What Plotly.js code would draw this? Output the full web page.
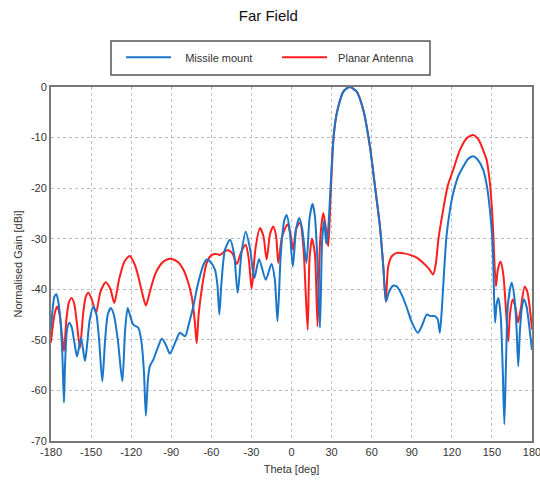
<!DOCTYPE html>
<html>
<head>
<meta charset="utf-8">
<script src="https://cdn.plot.ly/plotly-3.0.1.min.js"></script>
<style>html,body{margin:0;padding:0;background:#fff;}#chart{width:540px;height:482px;}</style>
</head>
<body>
<div id="chart"></div>
<script>
// Missile mount (blue)
var missileTheta = [-180,-179,-177.5,-176,-174.5,-173,-171.5,-170.3,-169.5,-168,-166.3,-164.5,-162.5,-160.5,-157.5,-154.6,-153,-151,-148.3,-146,-144,-141.6,-139.5,-137.5,-135.3,-133,-130,-126.6,-124.5,-122.6,-120.5,-118.4,-114.7,-112.5,-110.5,-109,-107.5,-106,-103.4,-100,-97,-94,-91,-87,-83.5,-79.7,-76.5,-73.5,-70.5,-68.5,-66,-63.5,-61,-57.3,-55.5,-54,-52.5,-49.8,-46,-43,-40.3,-37.5,-34.3,-31,-27.8,-24.3,-19.3,-15,-12.5,-10.5,-8,-5.5,-3.6,-1.5,1,3.5,5.8,8,11.2,13.5,15.7,17.5,19.5,21.3,23,24.5,26,27.5,29,31.3,33,35,38.8,43.3,48.8,53.7,58.7,62.5,66.2,68.7,70.8,73,76,78.7,82,86,90,94.5,97.5,101.2,104,107.4,109.5,111,112.5,113.7,116,118.5,121,125,128.6,132,136,140,143.5,146.5,148.5,150,151,152.3,153.5,154.8,156.5,158,159.3,160.5,162,164.8,167,168.5,169.7,171,172.5,174,176,178,180];
var missileGain = [-48,-44.5,-41.5,-41,-42.5,-46,-53,-62.4,-55,-48,-46.6,-47.5,-50.5,-53.3,-49.6,-54.2,-51,-46,-43.4,-45,-50,-58.2,-50,-45,-43.7,-45,-50,-58.2,-48,-43.7,-45.5,-47,-47.6,-50,-56,-65,-58,-55.2,-53.9,-51.5,-49.8,-51,-52.7,-50.5,-48.6,-49.3,-46.5,-43.4,-39.5,-37.4,-35.2,-34.1,-34.5,-36.1,-39,-45,-39,-32.2,-30.2,-33,-40.7,-33,-28.6,-32,-37.8,-34,-38.1,-35,-38,-46.3,-33,-26.5,-25.3,-28,-35.5,-28,-25.9,-28,-34.8,-26,-23.1,-25.5,-35,-47.6,-30,-26.4,-31,-28,-21,-10.5,-6.5,-3.9,-0.9,0,-0.9,-4.5,-11.8,-19.7,-27.6,-35.5,-42.4,-40.5,-39.3,-39.4,-40.8,-43.4,-46.5,-48.6,-47.3,-45,-45.3,-45.3,-46,-48.6,-44,-38.7,-29.5,-24.5,-21,-17.5,-15.7,-14.3,-13.7,-14.6,-16.4,-20,-24.3,-29,-34.8,-46.6,-43,-41.7,-45,-55,-66.7,-55,-43,-38.7,-42,-48,-55.2,-48,-43.5,-42,-43.5,-47.5,-52];

// Planar Antenna (red)
var planarTheta = [-180,-179,-177,-175.3,-173.5,-172,-170.3,-168.5,-166.5,-164.5,-162.5,-160.5,-158.3,-156,-154,-152,-149.5,-146.3,-143,-139,-135.5,-132.6,-129,-125,-121,-117.5,-114.7,-111.5,-109,-106,-102,-97,-93,-89.7,-85,-81,-77.5,-74.7,-72.5,-71,-69.5,-67.2,-65,-63.5,-59.7,-56.5,-53.5,-50,-47.3,-44,-41,-37.5,-34.3,-32,-29.8,-27,-23.6,-21,-18.6,-16,-13.6,-11.5,-9.9,-7,-3,-0.5,1.3,3.5,6.4,9,10.5,12.1,13.5,15.3,17.5,19.5,21.5,23.8,25.5,27.5,29.2,31.3,33,35,38.8,43.3,48.8,53.7,58.7,62.5,66.2,68.7,70.5,72.4,75,78.7,84,88.7,94,98.6,102.5,106,108,110,113.5,117,121,126,131,136,140,143,146,148.5,150,151,153,154.5,156.5,158.5,160.5,162.2,163.5,165.5,167.5,169.5,171.5,174.5,176.5,178.5,180];
var planarGain = [-50.5,-48,-44.5,-43.4,-45,-48.5,-52.2,-46,-42.5,-41.7,-43,-47,-51.6,-45,-41.5,-40.7,-42,-44.7,-40.5,-38.6,-40,-42.7,-38,-34.5,-33.4,-35,-37.4,-41,-43.2,-40.5,-37,-34.8,-34.1,-34,-34.6,-36.1,-38.5,-41.4,-46,-50.7,-45,-40,-36.5,-34.8,-33.2,-33,-33.2,-32.5,-32.3,-33,-35,-32.5,-31.2,-34,-39.9,-32,-27.9,-29.5,-34.1,-29,-27.6,-29.5,-34.8,-29.5,-27.2,-29.5,-32.2,-28,-26.8,-32,-40,-48,-34,-30,-33,-47.3,-30,-24.9,-27.5,-31.5,-22,-10.5,-6.5,-3.9,-0.9,0,-0.9,-4.5,-11.8,-19.7,-27.6,-35.5,-42.4,-35.5,-33.5,-32.8,-32.9,-33.2,-33.8,-34.8,-35.8,-37.1,-35,-30,-24.3,-19.5,-16.4,-12.5,-10.2,-9.5,-10.4,-12.2,-14.4,-19,-24,-28.9,-39.4,-36,-34.5,-37,-44,-50.3,-45,-42,-43.5,-46.5,-44,-39.5,-40.5,-44,-48];

var xTicks = [-180,-150,-120,-90,-60,-30,0,30,60,90,120,150,180];
var yTicks = [-70,-60,-50,-40,-30,-20,-10,0];

var traces = [
  {x: planarTheta, y: planarGain, type: 'scatter', mode: 'lines', name: '\u00a0\u00a0Planar Antenna',
   legendrank: 2, line: {color: 'rgb(255,30,30)', width: 2, shape: 'spline', smoothing: 0.7}},
  {x: missileTheta, y: missileGain, type: 'scatter', mode: 'lines', name: '\u00a0\u00a0\u00a0Missile mount',
   legendrank: 1, line: {color: 'rgb(25,118,200)', width: 2, shape: 'spline', smoothing: 0.7}}
];

var layout = {
  width: 540, height: 482,
  margin: {l: 51, r: 8, t: 87, b: 41},
  paper_bgcolor: '#fff', plot_bgcolor: '#fff',
  font: {family: 'Liberation Sans, Arial, sans-serif', size: 11, color: '#222'},
  title: {text: 'Far Field', x: 0.497, xref: 'container', y: 0.968, yref: 'container', yanchor: 'middle',
          font: {size: 15, color: '#111'}},
  showlegend: true,
  legend: {orientation: 'h', x: 0.1455, y: 1.125, xanchor: 'left', yanchor: 'top',
           borderwidth: 0, bgcolor: 'rgba(0,0,0,0)',
           font: {size: 11, color: '#333'}, itemwidth: 45, entrywidth: 96},
  shapes: [
    {type: 'rect', xref: 'paper', yref: 'paper',
     x0: (111 - 51) / 481, x1: (430 - 51) / 481, y0: (441 - 75) / 354, y1: (441 - 41) / 354,
     line: {color: '#555', width: 1.5}, fillcolor: 'rgba(0,0,0,0)', layer: 'below'}
  ],
  xaxis: {range: [-180, 180], tickvals: xTicks, ticktext: xTicks.map(String),
          showgrid: true, gridcolor: '#bdbdbd', griddash: '3px,3px', gridwidth: 1,
          zeroline: false, showline: true, linecolor: '#777', linewidth: 2, mirror: true,
          ticks: '', ticklabeloverflow: 'allow', tickfont: {size: 11, color: '#333'},
          title: {text: 'Theta [deg]', font: {size: 11, color: '#333'}, standoff: 8}},
  yaxis: {range: [-70, 0], tickvals: yTicks, ticktext: yTicks.map(String),
          showgrid: true, gridcolor: '#bdbdbd', griddash: '3px,3px', gridwidth: 1,
          zeroline: false, showline: true, linecolor: '#777', linewidth: 2, mirror: true,
          ticks: '', tickfont: {size: 11, color: '#333'},
          title: {text: 'Normalised Gain [dBi]', font: {size: 11, color: '#333'}, standoff: 6}}
};

Plotly.newPlot('chart', traces, layout, {displayModeBar: false, staticPlot: true});
</script>
</body>
</html>
